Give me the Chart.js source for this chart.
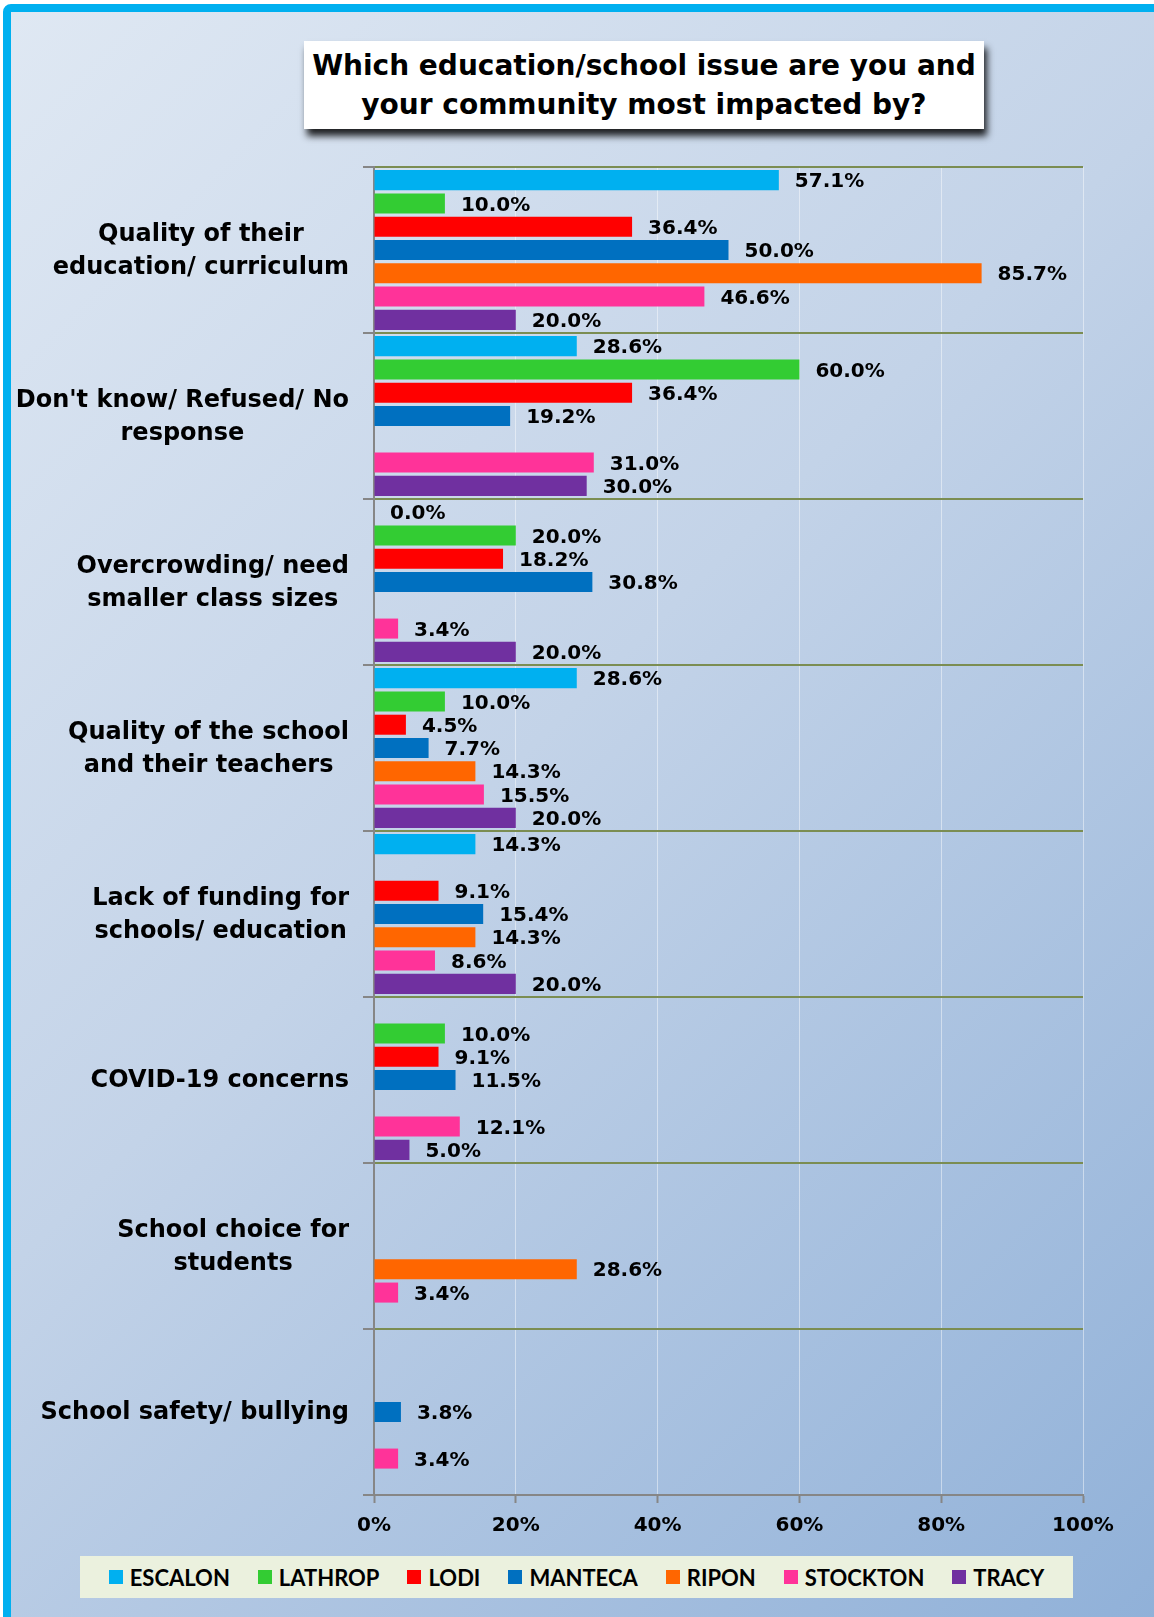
<!DOCTYPE html>
<html>
<head>
<meta charset="utf-8">
<script src="https://cdn.jsdelivr.net/npm/chart.js@4.4.0/dist/chart.umd.min.js"></script>
<style>
  html, body { margin:0; padding:0; }
  body { width:1154px; height:1617px; overflow:hidden; background:#ffffff; position:relative; font-family:'DejaVu Sans', sans-serif; }
  #frame { position:absolute; left:3px; top:4px; width:1180px; height:1640px; box-sizing:border-box;
           border:8px solid #00B0F0; border-radius:8px;
           background: linear-gradient(135deg, #dfe8f3 0%, #c3d3e8 45%, #8fb0d8 100%); }
  #chart { position:absolute; left:0; top:0; }
  #title { position:absolute; left:304px; top:41px; width:680px; height:88px; background:#fff;
           box-shadow: 3px 7px 7px rgba(0,0,0,0.85);
           display:flex; align-items:center; justify-content:center; text-align:center;
           font-weight:bold; font-size:28px; line-height:39px; color:#000; }
  #legend { position:absolute; left:80px; top:1556px; width:993px; height:42px; background:#EBF1DE;
            display:flex; align-items:center; justify-content:center; gap:28px; }
  .li { display:flex; align-items:center; font-family:'Lato', sans-serif; font-weight:bold; font-size:22px; color:#000; }
  .sw { width:14px; height:14px; margin-right:7px; }
</style>
</head>
<body>
<div id="frame"></div>
<div id="title">Which education/school issue are you and<br>your community most impacted by?</div>
<canvas id="chart" width="1154" height="1617"></canvas>
<div id="legend"></div>
<script>
const categories = [
  ["Quality of their", "education/ curriculum"],
  ["Don't know/ Refused/ No", "response"],
  ["Overcrowding/ need", "smaller class sizes"],
  ["Quality of the school", "and their teachers"],
  ["Lack of funding for", "schools/ education"],
  ["COVID-19 concerns"],
  ["School choice for", "students"],
  ["School safety/ bullying"]
];
const seriesNames = ["ESCALON", "LATHROP", "LODI", "MANTECA", "RIPON", "STOCKTON", "TRACY"];
const seriesColors = ["#00B0F0", "#33CC33", "#FF0000", "#0070C0", "#FF6600", "#FF3399", "#7030A0"];
const escalon  = [57.1, 28.6, 0.0, 28.6, 14.3, null, null, null];
const lathrop  = [10.0, 60.0, 20.0, 10.0, null, 10.0, null, null];
const lodi     = [36.4, 36.4, 18.2, 4.5, 9.1, 9.1, null, null];
const manteca  = [50.0, 19.2, 30.8, 7.7, 15.4, 11.5, null, 3.8];
const ripon    = [85.7, null, null, 14.3, 14.3, null, 28.6, null];
const stockton = [46.6, 31.0, 3.4, 15.5, 8.6, 12.1, 3.4, 3.4];
const tracy    = [20.0, 30.0, 20.0, 20.0, 20.0, 5.0, null, null];
const seriesValues = [escalon, lathrop, lodi, manteca, ripon, stockton, tracy];
const xTicks = [0, 20, 40, 60, 80, 100];

const FONT = "'DejaVu Sans', sans-serif";

const valueLabels = {
  id: 'valueLabels',
  afterDatasetsDraw(chart) {
    const ctx = chart.ctx;
    ctx.save();
    ctx.font = "bold 20px " + FONT;
    ctx.fillStyle = "#000";
    ctx.textAlign = "left";
    ctx.textBaseline = "middle";
    chart.data.datasets.forEach((ds, di) => {
      const meta = chart.getDatasetMeta(di);
      meta.data.forEach((el, i) => {
        const v = ds.data[i];
        if (v === null || v === undefined) return;
        ctx.fillText(v.toFixed(1) + "%", el.x + 16, el.y + 2);
      });
    });
    ctx.restore();
  }
};

const catLabels = {
  id: 'catLabels',
  afterDraw(chart) {
    const ctx = chart.ctx;
    const y = chart.scales.y;
    ctx.save();
    ctx.font = "bold 24px " + FONT;
    ctx.fillStyle = "#000";
    ctx.textAlign = "center";
    ctx.textBaseline = "middle";
    const right = y.right - 25;
    const lh = 33;
    categories.forEach((lines, i) => {
      const cy = y.getPixelForValue(i);
      const w = Math.max(...lines.map(l => ctx.measureText(l).width));
      const cx = right - w / 2;
      lines.forEach((l, k) => {
        ctx.fillText(l, cx, cy + (k - (lines.length - 1) / 2) * lh + 1);
      });
    });
    ctx.restore();
  }
};

const chart = new Chart(document.getElementById('chart'), {
  type: 'bar',
  data: {
    labels: categories.map(c => c.join(' ')),
    datasets: seriesNames.map((n, i) => ({
      label: n,
      data: seriesValues[i],
      backgroundColor: seriesColors[i],
      borderWidth: 0,
      categoryPercentage: 0.982,
      barPercentage: 0.86
    }))
  },
  options: {
    indexAxis: 'y',
    responsive: false,
    animation: false,
    devicePixelRatio: 1,
    layout: { padding: { top: 167, right: 71, bottom: 0, left: 0 } },
    plugins: { legend: { display: false }, tooltip: { enabled: false }, title: { display: false } },
    scales: {
      x: {
        min: 0, max: 100,
        afterBuildTicks(s) { s.ticks = xTicks.map(v => ({ value: v })); },
        afterFit(s) { s.height = 122; },
        grid: { color: 'rgba(255,255,255,0.45)', lineWidth: 1, tickColor: '#868686', tickLength: 8, tickWidth: 2 },
        border: { color: '#868686', width: 2 },
        ticks: { callback: v => v + '%', font: { family: FONT, size: 20, weight: 'bold' }, color: '#000', padding: 11, maxRotation: 0 }
      },
      y: {
        afterFit(s) { s.width = 374; },
        grid: { offset: true, color: c => c.type === 'tick' ? '#7b8d52' : '#868686', lineWidth: 2, tickColor: '#868686', tickLength: 11, tickWidth: 2 },
        border: { color: '#868686', width: 2 },
        ticks: { display: false }
      }
    }
  },
  plugins: [valueLabels, catLabels]
});

const legend = document.getElementById('legend');
seriesNames.forEach((n, i) => {
  const d = document.createElement('div');
  d.className = 'li';
  d.innerHTML = '<span class="sw" style="background:' + seriesColors[i] + '"></span>' + n;
  legend.appendChild(d);
});
</script>
</body>
</html>
